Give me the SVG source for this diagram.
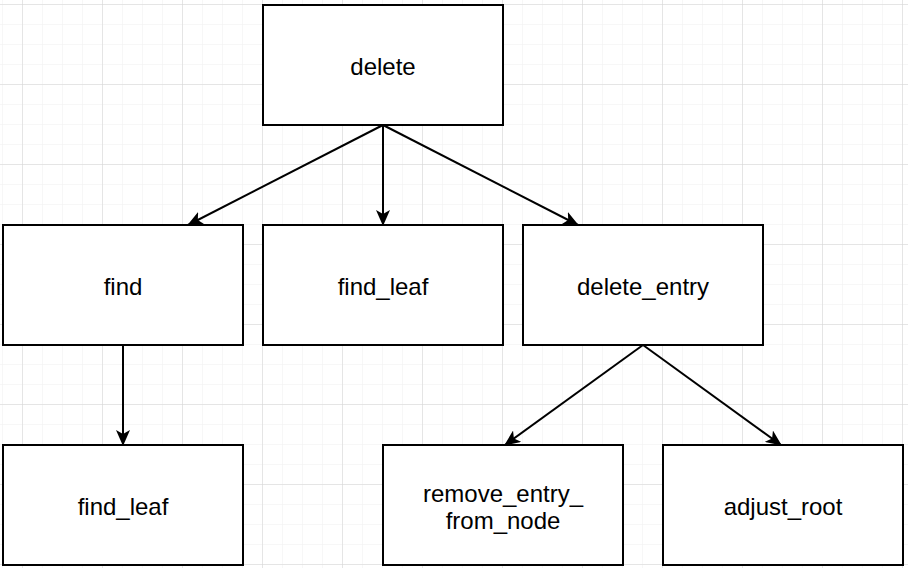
<svg xmlns="http://www.w3.org/2000/svg" width="908" height="568" viewBox="0 0 908 568">
<defs>
<pattern id="minor" x="2" y="4" width="20" height="20" patternUnits="userSpaceOnUse">
<path d="M0 0H20M0 0V20" fill="none" stroke="#efefef" stroke-width="1"/>
</pattern>
<pattern id="major" x="22" y="4" width="80" height="80" patternUnits="userSpaceOnUse">
<path d="M0 0H80M0 0V80" fill="none" stroke="#d3d3d3" stroke-width="1"/>
</pattern>
<marker id="arr" viewBox="0 0 16 14" refX="15" refY="7" markerWidth="16" markerHeight="14" markerUnits="userSpaceOnUse" orient="auto">
<path d="M0 0L16 7L0 14L4 7Z" fill="#000"/>
</marker>
</defs>
<style>
.box{fill:#fff;stroke:#000;stroke-width:2}
.lbl{font-family:"Liberation Sans",Arial,sans-serif;font-size:24px;fill:#000;text-anchor:middle}
.edge{fill:none;stroke:#000;stroke-width:2;marker-end:url(#arr)}
</style>
<rect width="908" height="568" fill="#fff"/>
<rect width="908" height="568" fill="url(#minor)"/>
<rect width="908" height="568" fill="url(#major)"/>
<g id="connectors">
<path class="edge" d="M383 125L188 225"/>
<path class="edge" d="M383 125L383 225"/>
<path class="edge" d="M383 125L578 225"/>
<path class="edge" d="M123 345L123 445"/>
<path class="edge" d="M643 345L505 445"/>
<path class="edge" d="M643 345L781 445"/>
</g>
<g id="delete"><rect class="box" x="263" y="5" width="240" height="120"/><text class="lbl" x="383" y="75">delete</text></g>
<g id="find"><rect class="box" x="3" y="225" width="240" height="120"/><text class="lbl" x="123" y="295">find</text></g>
<g id="find_leaf_1"><rect class="box" x="263" y="225" width="240" height="120"/><text class="lbl" x="383" y="295">find_leaf</text></g>
<g id="delete_entry"><rect class="box" x="523" y="225" width="240" height="120"/><text class="lbl" x="643" y="295">delete_entry</text></g>
<g id="find_leaf_2"><rect class="box" x="3" y="445" width="240" height="120"/><text class="lbl" x="123" y="515">find_leaf</text></g>
<g id="remove_entry_from_node"><rect class="box" x="383" y="445" width="240" height="120"/><text class="lbl" x="503" y="502">remove_entry_</text><text class="lbl" x="503" y="529">from_node</text></g>
<g id="adjust_root"><rect class="box" x="663" y="445" width="240" height="120"/><text class="lbl" x="783" y="515">adjust_root</text></g>
</svg>
